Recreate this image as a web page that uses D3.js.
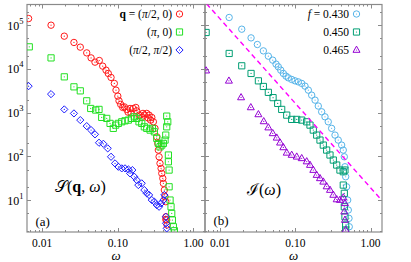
<!DOCTYPE html>
<html>
<head>
<meta charset="utf-8">
<script src="https://cdn.jsdelivr.net/npm/d3@7"></script>
<style>
body { margin: 0; background: #fff; }
text { font-family: "Liberation Serif", "DejaVu Serif", serif; fill: #000; }
</style>
</head>
<body>
<script>
// ---- data: [omega, value] ----
var sHalfPi0 = [[0.00662,1.42e5],[0.0131,1.0e5],[0.0196,5.61e4],[0.0263,4.03e4],[0.0319,3.15e4],[0.0388,2.33e4],
  [0.0443,1.79e4],[0.0499,1.43e4],[0.0569,1.56e4],[0.0631,1.16e4],[0.0698,9390],[0.0748,7890],[0.0813,6400],
  [0.0899,4670],[0.0946,3280],[0.100,2390],[0.1037,1870],[0.109,1550],[0.116,1320],[0.122,1360],[0.131,1190],
  [0.1365,1030],[0.145,1250],[0.1496,980],[0.160,1250],[0.173,1320],[0.178,1100],[0.191,881],[0.207,781],
  [0.215,964],[0.224,881],[0.241,964],[0.251,761],[0.259,881],[0.271,678],[0.281,781],[0.295,620],[0.310,439],
  [0.327,282],[0.337,199],[0.343,140],[0.351,98.4],[0.361,69.5],[0.373,53.5],[0.381,41.1],[0.393,31.6],
  [0.400,24.3],[0.412,17.1],[0.421,12.0],[0.430,9.25],[0.434,4.2],[0.443,3.53],[0.447,2.72],[0.430,3.66]];

var sPi0 = [[0.00675,3.2e4],[0.0131,1.79e4],[0.0196,6600],[0.0263,3900],[0.0319,3160],[0.0388,1870],[0.0438,1250],
  [0.0510,1150],[0.0564,1190],[0.0612,781],[0.0713,741],[0.0789,570],[0.0871,439],[0.0938,521],[0.1016,570],
  [0.1127,620],[0.1245,653],[0.1377,678],[0.1527,741],[0.1652,806],[0.178,741],[0.1906,620],[0.207,570],
  [0.224,476],[0.241,439],[0.267,401],[0.286,439],[0.304,366],[0.327,259],[0.343,199],[0.361,166],[0.381,182],
  [0.400,199],[0.421,237],[0.430,308],[0.443,476],[0.457,620],[0.443,836],[0.466,108],[0.466,75.7],[0.476,48.9],
  [0.476,20.3],[0.490,10.1],[0.505,7.1],[0.516,5.0],[0.526,3.53],[0.542,2.48],[0.559,2.01]];

var sHalfPiHalfPi = [[0.00662,4050],[0.0131,2660],[0.0196,1190],[0.0263,964],[0.0319,678],[0.0388,494],[0.0443,401],
  [0.0499,320],[0.0564,206],[0.0643,195],[0.0735,153],[0.0813,98.4],[0.0918,69.5],[0.1016,58.2],[0.1127,53.5],
  [0.1245,53.5],[0.1377,50.7],[0.145,41.1],[0.1556,48.9],[0.1652,34.4],[0.178,28.9],[0.1866,22.2],[0.207,24.3],
  [0.224,17.1],[0.241,14.4],[0.259,13.2],[0.281,10.1],[0.304,9.25],[0.327,7.76],[0.351,7.1],[0.373,8.5],
  [0.400,10.1],[0.412,13.2],[0.430,4.2],[0.434,2.97],[0.443,2.28]];

var iF430 = [[0.0132,1.5e5],[0.0194,8.1e4],[0.0258,5.13e4],[0.0313,3.62e4],[0.0376,2.59e4],[0.0438,1.96e4],
  [0.0501,1.59e4],[0.0554,1.29e4],[0.0594,1.12e4],[0.0640,9390],[0.0693,7890],[0.0752,6850],[0.0807,6270],
  [0.0895,5750],[0.099,5350],[0.1096,5070],[0.1216,4670],[0.1346,4050],[0.149,3280],[0.165,2520],[0.183,1940],
  [0.202,1420],[0.224,1050],[0.248,806],[0.274,620],[0.304,439],[0.337,308],[0.372,237],[0.413,182],[0.434,140],
  [0.448,98.4],[0.457,58.2],[0.467,34.4],[0.481,20.3],[0.497,10.1],[0.506,5.97],[0.517,3.86],[0.521,2.48]];

var iF450 = [[0.00652,6.81e4],[0.0132,2.26e4],[0.0194,1.18e4],[0.0258,7890],[0.0323,5350],[0.0376,3980],
  [0.0438,2920],[0.0506,2210],[0.0583,1630],[0.0659,1190],[0.0769,881],[0.0895,703],[0.1044,703],[0.1216,678],
  [0.1417,620],[0.1567,521],[0.1734,401],[0.1923,308],[0.2128,237],[0.2355,182],[0.261,140],[0.289,108],
  [0.320,82.8],[0.355,63.7],[0.392,48.9],[0.434,44.8],[0.457,48.9],[0.434,22.2],[0.448,14.4],[0.448,7.1],
  [0.457,4.2],[0.467,2.72],[0.467,2.09]];

var iF465 = [[0.00652,9140],[0.0131,5350],[0.0190,2230],[0.0256,1320],[0.0323,914],[0.0380,632],[0.0438,457],
  [0.0501,337],[0.0566,267],[0.0627,206],[0.0693,161],[0.0769,121],[0.0895,108],[0.1044,98.4],[0.1216,90.6],
  [0.1417,76.6],[0.1567,63.7],[0.1734,48.9],[0.1923,37.6],[0.2128,31.6],[0.2355,26.4],[0.261,20.6],[0.289,17.1],
  [0.320,13.2],[0.355,10.4],[0.392,10.1],[0.434,11.5],[0.457,8.5],[0.448,5.46],[0.457,3.53],[0.467,2.09]];

var guideOmega = [0.0066, 1.40];
var guideI = [3.1e5, 10.1];

var xTickValues = [0.01, 0.1, 1];
var xTickLabels = ["0.01", "0.10", "1.00"];
var yTickValues = [10, 100, 1000, 10000, 100000];
var yTickExp = ["1", "2", "3", "4", "5"];

var xDomain = [0.0063, 1.42],
    yDomain = [1.88, 2.97e5];

var width = 411, height = 262,
    plotTop = 4.5, plotBottom = 232;

var axisColor = "#8a8a8a";

var svg = d3.select("body").append("svg")
    .attr("width", width)
    .attr("height", height);

var y = d3.scaleLog().domain(yDomain).range([plotBottom, plotTop]);

// minor ticks: x every 1..9 per decade, y at 2 and 5
var xMinor = [], yMinor = [];
[0.001, 0.01, 0.1, 1].forEach(function(d) {
  for (var k = 2; k <= 9; k++) xMinor.push(d * k);
});
[1, 10, 100, 1000, 10000, 100000].forEach(function(d) {
  yMinor.push(2 * d, 5 * d);
});
xMinor = xMinor.filter(function(v) { return v > xDomain[0] && v < xDomain[1]; });
yMinor = yMinor.filter(function(v) { return v > yDomain[0] && v < yDomain[1]; });

function drawMarker(g, type, color, px, py) {
  if (type === "circle") {
    g.append("circle").attr("cx", px).attr("cy", py).attr("r", 3.2)
      .attr("fill", "none").attr("stroke", color).attr("stroke-width", 1);
  } else {
    var p = {
      square: "M-3.1,-3.1h6.2v6.2h-6.2z",
      diamond: "M0,-3.6L3.6,0L0,3.6L-3.6,0z",
      triangle: "M0,-3.9L3.5,2.3L-3.5,2.3z"
    }[type];
    g.append("path").attr("d", p).attr("transform", "translate(" + px + "," + py + ")")
      .attr("fill", "none").attr("stroke", color).attr("stroke-width", 1);
  }
  g.append("circle").attr("cx", px).attr("cy", py).attr("r", 0.6).attr("fill", color);
}

function panel(x0, x1, series, legend, tag, title, showY) {
  var x = d3.scaleLog().domain(xDomain).range([x0, x1]);
  var g = svg.append("g");

  // ticks on all four sides, pointing inward
  var ticks = g.append("g").attr("stroke", axisColor).attr("stroke-width", 1);
  function xTick(v, len) {
    var px = Math.round(x(v)) + 0.5;
    ticks.append("line").attr("x1", px).attr("x2", px).attr("y1", plotBottom).attr("y2", plotBottom - len);
    ticks.append("line").attr("x1", px).attr("x2", px).attr("y1", plotTop).attr("y2", plotTop + len);
  }
  function yTick(v, len) {
    var py = Math.round(y(v)) + 0.5;
    ticks.append("line").attr("x1", x0).attr("x2", x0 + len).attr("y1", py).attr("y2", py);
    ticks.append("line").attr("x1", x1).attr("x2", x1 - len).attr("y1", py).attr("y2", py);
  }
  xTickValues.forEach(function(v) { xTick(v, 4); });
  xMinor.forEach(function(v) { xTick(v, 2); });
  yTickValues.forEach(function(v) { yTick(v, 4); });
  yMinor.forEach(function(v) { yTick(v, 2); });

  g.append("rect")
    .attr("x", x0).attr("y", plotTop)
    .attr("width", x1 - x0).attr("height", plotBottom - plotTop)
    .attr("fill", "none").attr("stroke", axisColor).attr("stroke-width", 1.2);

  // x tick labels
  g.selectAll(".xl").data(xTickValues).enter().append("text")
    .attr("x", function(d) { return x(d); })
    .attr("y", 247)
    .attr("text-anchor", "middle")
    .style("font-size", "11.5px")
    .text(function(d, i) { return xTickLabels[i]; });

  if (showY) {
    yTickValues.forEach(function(v, i) {
      var t = g.append("text")
        .attr("x", x0 - 3.5).attr("y", y(v) + 4.5)
        .attr("text-anchor", "end")
        .style("font-size", "12px");
      t.append("tspan").text("10");
      t.append("tspan").attr("dy", -6).style("font-size", "8.5px").text(yTickExp[i]);
    });
  }

  // axis title
  g.append("text")
    .attr("x", (x0 + x1) / 2).attr("y", 259.5)
    .attr("text-anchor", "middle")
    .style("font-size", "13px").style("font-style", "italic")
    .text("ω");

  // data
  var clipId = "clip" + tag;
  svg.append("clipPath").attr("id", clipId)
    .append("rect").attr("x", x0).attr("y", plotTop).attr("width", x1 - x0).attr("height", plotBottom - plotTop);
  var marks = g.append("g").attr("clip-path", "url(#" + clipId + ")");

  series.forEach(function(s) {
    s.data.forEach(function(d) {
      drawMarker(marks, s.type, s.color, x(d[0]), y(d[1]));
    });
  });

  if (tag === "b") {
    marks.append("path")
      .datum(d3.zip(guideOmega, guideI))
      .attr("d", d3.line().x(function(d) { return x(d[0]); }).y(function(d) { return y(d[1]); }))
      .attr("fill", "none").attr("stroke", "#ff00ff").attr("stroke-width", 1.4)
      .attr("stroke-dasharray", "5,3.5");
  }

  // legend
  legend.forEach(function(e, i) {
    var cy = 14 + i * 18;
    var t = g.append("text")
      .attr("x", x1 - 33).attr("y", cy + 4)
      .attr("text-anchor", "end")
      .style("font-size", "11.5px");
    e.parts.forEach(function(p) {
      var sp = t.append("tspan").text(p[0]);
      if (p[1] === "b") sp.style("font-weight", "bold");
      if (p[1] === "i") sp.style("font-style", "italic");
    });
    drawMarker(g, series[i].type, series[i].color, x1 - 25.5, cy);
  });

  // panel tag
  g.append("text").attr("x", x0 + 8.5).attr("y", tag === "a" ? 226 : 224.5)
    .style("font-size", "13px").text("(" + tag + ")");

  // panel title
  var tt = g.append("text").attr("x", title.x).attr("y", title.y).style("font-size", "16px");
  title.parts.forEach(function(p) {
    var sp = tt.append("tspan").text(p[0]);
    if (p[1] === "b") sp.style("font-weight", "bold");
    if (p[1] === "i") sp.style("font-style", "italic");
  });
}

panel(27, 205,
  [{data: sHalfPi0, type: "circle", color: "#ff1a1a"},
   {data: sPi0, type: "square", color: "#22e022"},
   {data: sHalfPiHalfPi, type: "diamond", color: "#1a1aff"}],
  [{parts: [["q", "b"], [" = (", ""], ["π", "i"], ["/2, 0)", ""]]},
   {parts: [["(", ""], ["π", "i"], [", 0)", ""]]},
   {parts: [["(", ""], ["π", "i"], ["/2, ", ""], ["π", "i"], ["/2)", ""]]}],
  "a",
  {x: 55, y: 192, parts: [["𝒮", ""], ["(", ""], ["q", "b"], [", ", ""], ["ω", "i"], [")", ""]]},
  true);

panel(205, 382,
  [{data: iF430, type: "circle", color: "#56b4e9"},
   {data: iF450, type: "square", color: "#009e73"},
   {data: iF465, type: "triangle", color: "#9400d3"}],
  [{parts: [["f", "i"], [" = 0.430", ""]]},
   {parts: [["0.450", ""]]},
   {parts: [["0.465", ""]]}],
  "b",
  {x: 247, y: 195, parts: [["ℐ", ""], ["(", ""], ["ω", "i"], [")", ""]]},
  false);
</script>
</body>
</html>
